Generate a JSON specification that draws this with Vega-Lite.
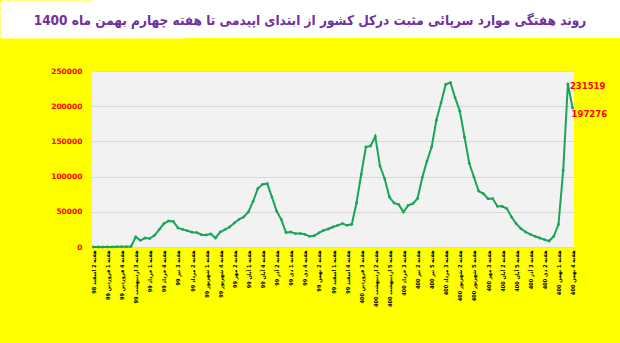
{
 "$schema": "https://vega.github.io/schema/vega-lite/v6.json",
 "background": "#FFFF00",
 "padding": {"left": 0, "top": 0, "right": 0, "bottom": 46},
 "spacing": 29,
 "columns": 1,
 "align": "none",
 "config": {"view": {"stroke": null}, "font": "DejaVu Sans"},
 "datasets": {
  "title": [{"t": "روند هفتگی موارد سرپائی مثبت  درکل کشور از ابتدای اپیدمی تا هفته چهارم بهمن ماه 1400"}],
  "weeks": [
   {"i": 0, "w": "هفته 2 اسفند 98", "v": 0},
   {"i": 1, "w": "هفته 3 اسفند 98", "v": 0},
   {"i": 2, "w": "هفته 4 اسفند 98", "v": 0},
   {"i": 3, "w": "هفته 1 فروردین 99", "v": 0},
   {"i": 4, "w": "هفته 2 فروردین 99", "v": 0},
   {"i": 5, "w": "هفته 3 فروردین 99", "v": 200},
   {"i": 6, "w": "هفته 4 فروردین 99", "v": 300},
   {"i": 7, "w": "هفته 1 اردیبهشت 99", "v": 500},
   {"i": 8, "w": "هفته 2 اردیبهشت 99", "v": 700},
   {"i": 9, "w": "هفته 3 اردیبهشت 99", "v": 14200},
   {"i": 10, "w": "هفته 4 اردیبهشت 99", "v": 9500},
   {"i": 11, "w": "هفته 5 اردیبهشت 99", "v": 12800},
   {"i": 12, "w": "هفته 1 خرداد 99", "v": 12000},
   {"i": 13, "w": "هفته 2 خرداد 99", "v": 16600},
   {"i": 14, "w": "هفته 3 خرداد 99", "v": 24700},
   {"i": 15, "w": "هفته 4 خرداد 99", "v": 33200},
   {"i": 16, "w": "هفته 1 تیر 99", "v": 37000},
   {"i": 17, "w": "هفته 2 تیر 99", "v": 36500},
   {"i": 18, "w": "هفته 3 تیر 99", "v": 27000},
   {"i": 19, "w": "هفته 4 تیر 99", "v": 25000},
   {"i": 20, "w": "هفته 1 مرداد 99", "v": 23000},
   {"i": 21, "w": "هفته 2 مرداد 99", "v": 21000},
   {"i": 22, "w": "هفته 3 مرداد 99", "v": 20500},
   {"i": 23, "w": "هفته 4 مرداد 99", "v": 17500},
   {"i": 24, "w": "هفته 1 شهریور 99", "v": 17000},
   {"i": 25, "w": "هفته 2 شهریور 99", "v": 18500},
   {"i": 26, "w": "هفته 3 شهریور 99", "v": 12800},
   {"i": 27, "w": "هفته 4 شهریور 99", "v": 21300},
   {"i": 28, "w": "هفته 5 شهریور 99", "v": 24700},
   {"i": 29, "w": "هفته 1 مهر 99", "v": 28400},
   {"i": 30, "w": "هفته 2 مهر 99", "v": 34100},
   {"i": 31, "w": "هفته 3 مهر 99", "v": 39300},
   {"i": 32, "w": "هفته 4 مهر 99", "v": 42600},
   {"i": 33, "w": "هفته 1 آبان 99", "v": 49700},
   {"i": 34, "w": "هفته 2 آبان 99", "v": 65000},
   {"i": 35, "w": "هفته 3 آبان 99", "v": 83000},
   {"i": 36, "w": "هفته 4 آبان 99", "v": 89000},
   {"i": 37, "w": "هفته 5 آبان 99", "v": 90000},
   {"i": 38, "w": "هفته 1 آذر 99", "v": 71000},
   {"i": 39, "w": "هفته 2 آذر 99", "v": 51000},
   {"i": 40, "w": "هفته 3 آذر 99", "v": 38900},
   {"i": 41, "w": "هفته 4 آذر 99", "v": 20500},
   {"i": 42, "w": "هفته 1 دی 99", "v": 21300},
   {"i": 43, "w": "هفته 2 دی 99", "v": 19000},
   {"i": 44, "w": "هفته 3 دی 99", "v": 19000},
   {"i": 45, "w": "هفته 4 دی 99", "v": 18000},
   {"i": 46, "w": "هفته 5 دی 99", "v": 15200},
   {"i": 47, "w": "هفته 1 بهمن 99", "v": 16000},
   {"i": 48, "w": "هفته 2 بهمن 99", "v": 20000},
   {"i": 49, "w": "هفته 3 بهمن 99", "v": 23700},
   {"i": 50, "w": "هفته 4 بهمن 99", "v": 25600},
   {"i": 51, "w": "هفته 1 اسفند 99", "v": 28400},
   {"i": 52, "w": "هفته 2 اسفند 99", "v": 30800},
   {"i": 53, "w": "هفته 3 اسفند 99", "v": 33200},
   {"i": 54, "w": "هفته 4 اسفند 99", "v": 30800},
   {"i": 55, "w": "هفته 1 فروردین 400", "v": 32200},
   {"i": 56, "w": "هفته 2 فروردین 400", "v": 62500},
   {"i": 57, "w": "هفته 3 فروردین 400", "v": 103000},
   {"i": 58, "w": "هفته 4 فروردین 400", "v": 142000},
   {"i": 59, "w": "هفته 1 اردیبهشت 400", "v": 143500},
   {"i": 60, "w": "هفته 2 اردیبهشت 400", "v": 157000},
   {"i": 61, "w": "هفته 3 اردیبهشت 400", "v": 115000},
   {"i": 62, "w": "هفته 4 اردیبهشت 400", "v": 97000},
   {"i": 63, "w": "هفته 5 اردیبهشت 400", "v": 71000},
   {"i": 64, "w": "هفته 1 خرداد 400", "v": 62500},
   {"i": 65, "w": "هفته 2 خرداد 400", "v": 60200},
   {"i": 66, "w": "هفته 3 خرداد 400", "v": 49700},
   {"i": 67, "w": "هفته 4 خرداد 400", "v": 59200},
   {"i": 68, "w": "هفته 1 تیر 400", "v": 61600},
   {"i": 69, "w": "هفته 2 تیر 400", "v": 69000},
   {"i": 70, "w": "هفته 3 تیر 400", "v": 98600},
   {"i": 71, "w": "هفته 4 تیر 400", "v": 122000},
   {"i": 72, "w": "هفته 5 تیر 400", "v": 142000},
   {"i": 73, "w": "هفته 1 مرداد 400", "v": 180000},
   {"i": 74, "w": "هفته 2 مرداد 400", "v": 205000},
   {"i": 75, "w": "هفته 3 مرداد 400", "v": 231000},
   {"i": 76, "w": "هفته 4 مرداد 400", "v": 233500},
   {"i": 77, "w": "هفته 1 شهریور 400", "v": 212000},
   {"i": 78, "w": "هفته 2 شهریور 400", "v": 193000},
   {"i": 79, "w": "هفته 3 شهریور 400", "v": 156000},
   {"i": 80, "w": "هفته 4 شهریور 400", "v": 119000},
   {"i": 81, "w": "هفته 5 شهریور 400", "v": 99400},
   {"i": 82, "w": "هفته 1 مهر 400", "v": 79500},
   {"i": 83, "w": "هفته 2 مهر 400", "v": 75800},
   {"i": 84, "w": "هفته 3 مهر 400", "v": 68700},
   {"i": 85, "w": "هفته 4 مهر 400", "v": 68700},
   {"i": 86, "w": "هفته 1 آبان 400", "v": 57800},
   {"i": 87, "w": "هفته 2 آبان 400", "v": 57800},
   {"i": 88, "w": "هفته 3 آبان 400", "v": 54500},
   {"i": 89, "w": "هفته 4 آبان 400", "v": 42600},
   {"i": 90, "w": "هفته 5 آبان 400", "v": 33200},
   {"i": 91, "w": "هفته 1 آذر 400", "v": 26100},
   {"i": 92, "w": "هفته 2 آذر 400", "v": 21300},
   {"i": 93, "w": "هفته 3 آذر 400", "v": 18000},
   {"i": 94, "w": "هفته 4 آذر 400", "v": 15200},
   {"i": 95, "w": "هفته 1 دی 400", "v": 12800},
   {"i": 96, "w": "هفته 2 دی 400", "v": 10500},
   {"i": 97, "w": "هفته 3 دی 400", "v": 8500},
   {"i": 98, "w": "هفته 4 دی 400", "v": 15200},
   {"i": 99, "w": "هفته 1 بهمن 400", "v": 32200},
   {"i": 100, "w": "هفته 2 بهمن 400", "v": 109000},
   {"i": 101, "w": "هفته 3 بهمن 400", "v": 231519},
   {"i": 102, "w": "هفته 4 بهمن 400", "v": 197276}
  ]
 },
 "concat": [
  {
   "data": {"name": "title"},
   "width": 528,
   "height": 38,
   "view": {"fill": "#FFFFFF", "stroke": null},
   "mark": {"type": "text", "font": "DejaVu Sans Condensed", "fontWeight": "bold", "fontSize": 13.5, "color": "#7030A0", "baseline": "middle", "dx": -46, "dy": 2},
   "encoding": {
    "text": {"field": "t"},
    "y": {"field": "t", "type": "nominal", "axis": {"labels": false, "ticks": false, "title": null, "grid": false, "domain": true, "domainColor": "#FFFFFF", "domainWidth": 184, "domainCap": "butt"}}
   }
  },
  {
   "data": {"name": "weeks"},
   "width": 482,
   "height": 176,
   "view": {"fill": "#F2F2F2", "stroke": null},
   "encoding": {
    "x": {
     "field": "w", "type": "ordinal", "sort": null,
     "scale": {"padding": 0.3},
     "axis": {
      "values": ["هفته 2 اسفند 98", "هفته 1 فروردین 99", "هفته 4 فروردین 99", "هفته 3 اردیبهشت 99", "هفته 1 خرداد 99", "هفته 4 خرداد 99", "هفته 3 تیر 99", "هفته 2 مرداد 99", "هفته 1 شهریور 99", "هفته 4 شهریور 99", "هفته 2 مهر 99", "هفته 1 آبان 99", "هفته 4 آبان 99", "هفته 2 آذر 99", "هفته 1 دی 99", "هفته 4 دی 99", "هفته 2 بهمن 99", "هفته 1 اسفند 99", "هفته 4 اسفند 99", "هفته 3 فروردین 400", "هفته 2 اردیبهشت 400", "هفته 5 اردیبهشت 400", "هفته 3 خرداد 400", "هفته 2 تیر 400", "هفته 5 تیر 400", "هفته 3 مرداد 400", "هفته 2 شهریور 400", "هفته 5 شهریور 400", "هفته 3 مهر 400", "هفته 2 آبان 400", "هفته 5 آبان 400", "هفته 3 آذر 400", "هفته 2 دی 400", "هفته 1 بهمن 400", "هفته 4 بهمن 400"],
      "title": null, "labelAngle": -90, "labelFont": "DejaVu Sans Condensed", "labelFontSize": 5.6, "labelFontWeight": "bold", "labelColor": "#000000",
      "ticks": false, "domain": false, "grid": false, "labelPadding": 3, "labelLimit": 200
     }
    },
    "y": {
     "field": "v", "type": "quantitative",
     "scale": {"domain": [0, 250000]},
     "axis": {
      "values": [0, 50000, 100000, 150000, 200000, 250000], "format": "d", "title": null,
      "labelColor": "#FF0000", "labelFontWeight": "bold", "labelFontSize": 7.5,
      "ticks": false, "domain": false, "gridColor": "#D9D9D9", "gridWidth": 1,
      "labelPadding": 10, "minExtent": 92
     }
    }
   },
   "layer": [
    {
     "mark": {"type": "line", "color": "#1AA35B", "strokeWidth": 2, "point": {"filled": true, "size": 8, "color": "#1AA35B"}}
    },
    {
     "transform": [{"filter": "datum.i == 101"}],
     "mark": {"type": "text", "color": "#FF0000", "fontWeight": "bold", "fontSize": 8.5, "align": "left", "baseline": "middle", "dx": 2, "dy": 2},
     "encoding": {"text": {"field": "v", "type": "quantitative", "format": "d"}}
    },
    {
     "transform": [{"filter": "datum.i == 102"}],
     "mark": {"type": "text", "color": "#FF0000", "fontWeight": "bold", "fontSize": 8.5, "align": "left", "baseline": "middle", "dx": -1, "dy": 6},
     "encoding": {"text": {"field": "v", "type": "quantitative", "format": "d"}}
    }
   ]
  }
 ]
}
